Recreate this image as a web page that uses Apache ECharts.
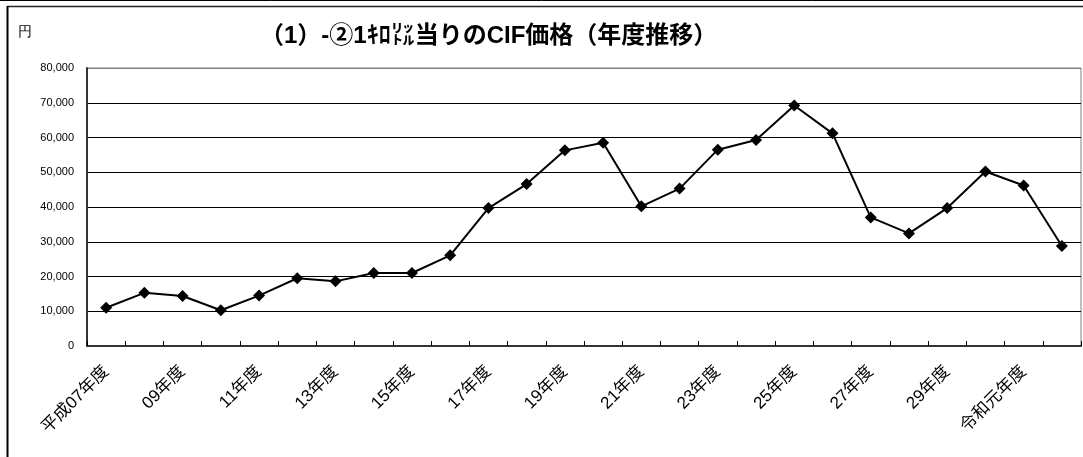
<!DOCTYPE html>
<html><head><meta charset="utf-8">
<script src="https://cdn.jsdelivr.net/npm/echarts@6/dist/echarts.min.js"></script>
<style>html,body{margin:0;padding:0;background:#fff}#c{width:1083px;height:457px}</style>
</head><body><div id="c"></div>
<script>
const categories = ['平成07年度','08年度','09年度','10年度','11年度','12年度','13年度','14年度','15年度','16年度','17年度','18年度','19年度','20年度','21年度','22年度','23年度','24年度','25年度','26年度','27年度','28年度','29年度','30年度','令和元年度','2年度'];
const cifPrice = [11000,15300,14400,10300,14500,19500,18600,21000,21000,26100,39700,46600,56300,58500,40200,45300,56500,59300,69200,61200,37000,32400,39700,50200,46200,28800];
const yTicks = {min:0, max:80000, interval:10000};
const titleText = '（1）-②1ｷﾛ㍑当りのCIF価格（年度推移）';
const unitText = '円';

const font = '"Liberation Sans","Noto Sans CJK JP",sans-serif';
const chart = echarts.init(document.getElementById('c'));
chart.setOption({
  animation:false,
  backgroundColor:'#fff',
  title:{text:titleText,left:255,top:19,textStyle:{fontSize:24,fontWeight:'bold',color:'#000',fontFamily:font}},
  graphic:[
    {type:'line',shape:{x1:0,y1:0.5,x2:1083,y2:0.5},style:{stroke:'#000',lineWidth:1}},
    {type:'line',shape:{x1:7,y1:6.5,x2:1083,y2:6.5},style:{stroke:'#222',lineWidth:1.5}},
    {type:'line',shape:{x1:7.5,y1:6,x2:7.5,y2:457},style:{stroke:'#000',lineWidth:2}},
    {type:'text',left:18,top:25,style:{text:unitText,fontSize:14,fill:'#000',font:'14px '+font}}
  ],
  grid:{left:87,top:68,right:2,bottom:111,show:true,borderColor:'#808080',borderWidth:1},
  xAxis:{type:'category',data:categories,boundaryGap:true,
    axisLine:{lineStyle:{color:'#333',width:2}},
    axisTick:{show:true,inside:true,length:5,interval:0,lineStyle:{color:'#000',width:1}},
    axisLabel:{interval:1,rotate:45,margin:23,fontSize:17,color:'#000',fontFamily:font},
    splitLine:{show:false}},
  yAxis:{type:'value',min:yTicks.min,max:yTicks.max,interval:yTicks.interval,
    axisLine:{show:true,lineStyle:{color:'#333',width:2}},
    axisTick:{show:false},
    axisLabel:{fontSize:11,color:'#000',margin:13,fontFamily:font,
      formatter:v=>v.toLocaleString('en-US')},
    splitLine:{show:true,lineStyle:{color:['#000','#000','#000','#000','#000','#000','#000','#000','#808080'],width:1}}},
  series:[{type:'line',data:cifPrice,symbol:'diamond',symbolSize:12,
    lineStyle:{color:'#000',width:2},itemStyle:{color:'#000'}}]
});
</script></body></html>
